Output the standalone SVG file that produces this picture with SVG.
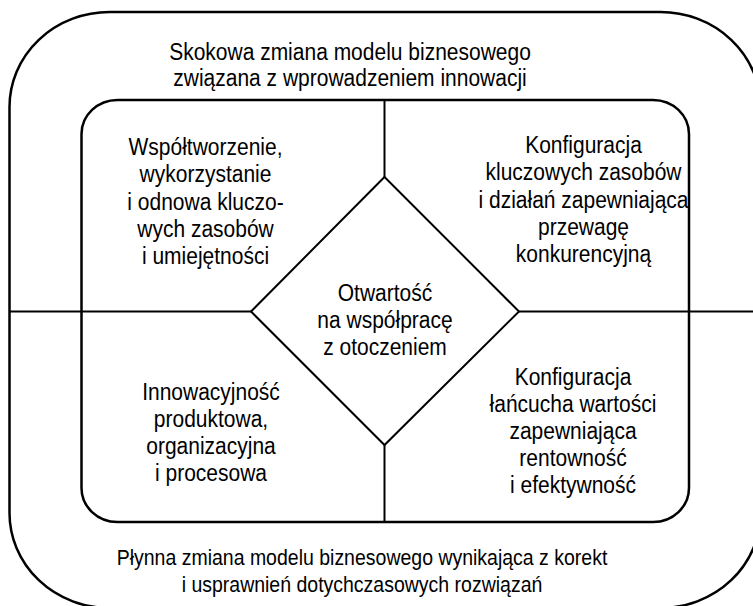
<svg xmlns="http://www.w3.org/2000/svg" width="753" height="606" viewBox="0 0 753 606">
<style>
.frame{fill:none;stroke:#000;stroke-width:2.5}
.ln{fill:none;stroke:#000;stroke-width:2}
text{font-family:"Liberation Sans",Arial,sans-serif;font-size:21px;fill:#000;text-anchor:middle}
.small{font-size:19.5px}
</style>
<rect width="753" height="606" fill="#fff"/>
<g id="outer"><rect class="frame" x="9.5" y="12" width="751" height="596" rx="100" ry="95"/></g>
<g id="inner"><rect class="frame" x="81.5" y="100" width="607.5" height="422" rx="36" ry="34"/></g>
<g id="connectors">
<line class="ln" x1="384.5" y1="100" x2="384.5" y2="177"/>
<line class="ln" x1="384.5" y1="445" x2="384.5" y2="522"/>
<line class="ln" x1="9.5" y1="311.5" x2="251" y2="311.5"/>
<line class="ln" x1="519" y1="311.5" x2="753" y2="311.5"/>
</g>
<g id="center"><polygon class="ln" points="384.5,177 519,311.5 384.5,445 251,311.5"/></g>
<g transform="scale(1,1.1)">
<g id="top-label"><text x="350" y="54.5">Skokowa zmiana modelu biznesowego<tspan x="350" dy="23.8">związana z wprowadzeniem innowacji</tspan></text></g>
<g id="bottom-label"><text class="small" x="362" y="513.6">Płynna zmiana modelu biznesowego wynikająca z korekt<tspan x="362" dy="24.5">i usprawnień dotychczasowych rozwiązań</tspan></text></g>
<g id="upper-left"><text x="205.5" y="140.9">Współtworzenie,<tspan x="205.5" dy="24.8">wykorzystanie</tspan><tspan x="205.5" dy="24.8">i odnowa kluczo-</tspan><tspan x="205.5" dy="24.8">wych zasobów</tspan><tspan x="205.5" dy="24.8">i umiejętności</tspan></text></g>
<g id="upper-right"><text x="583.5" y="139.1">Konfiguracja<tspan x="583.5" dy="24.8">kluczowych zasobów</tspan><tspan x="583.5" dy="24.8">i działań zapewniająca</tspan><tspan x="583.5" dy="24.8">przewagę</tspan><tspan x="583.5" dy="24.8">konkurencyjną</tspan></text></g>
<g id="center-label"><text x="385" y="273.6">Otwartość<tspan x="385" dy="24.6">na współpracę</tspan><tspan x="385" dy="24.6">z otoczeniem</tspan></text></g>
<g id="lower-left"><text x="211" y="363.6">Innowacyjność<tspan x="211" dy="24.6">produktowa,</tspan><tspan x="211" dy="24.6">organizacyjna</tspan><tspan x="211" dy="24.6">i procesowa</tspan></text></g>
<g id="lower-right"><text x="573" y="350">Konfiguracja<tspan x="573" dy="24.6">łańcucha wartości</tspan><tspan x="573" dy="24.6">zapewniająca</tspan><tspan x="573" dy="24.6">rentowność</tspan><tspan x="573" dy="24.6">i efektywność</tspan></text></g>
</g>
</svg>
